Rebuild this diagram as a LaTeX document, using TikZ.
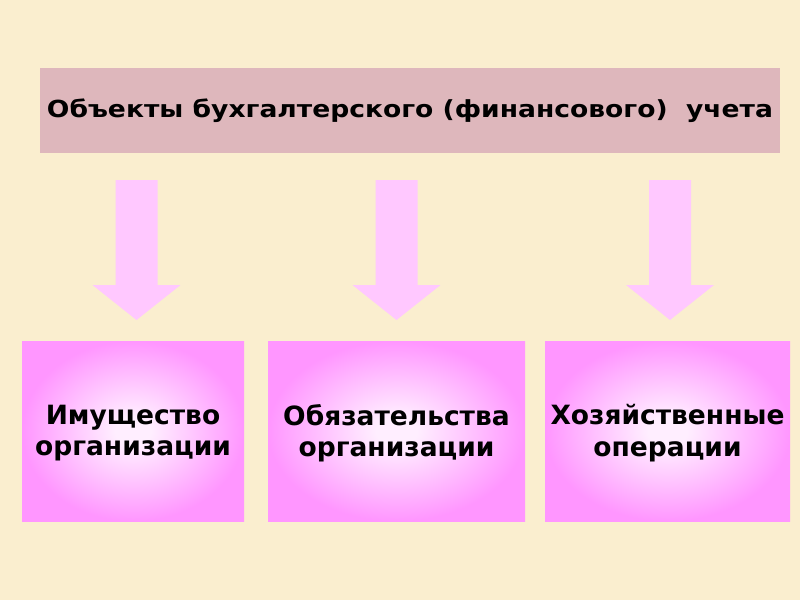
\documentclass[tikz,border=0pt]{standalone}
\usepackage{fontspec}
\setmainfont{DejaVu Sans}
\definecolor{bg}{RGB}{250,238,207}
\definecolor{bannerc}{RGB}{222,183,188}
\definecolor{arrowc}{RGB}{255,200,255}
\definecolor{boxin}{RGB}{255,238,255}
\definecolor{boxout}{RGB}{255,150,255}
\pgfdeclareradialshading{boxshade}{\pgfpoint{0bp}{0bp}}{color(0bp)=(boxin); color(4bp)=(boxin); color(25bp)=(boxout); color(50bp)=(boxout)}
\begin{document}
\begin{tikzpicture}[x=1pt,y=-1pt,
  banner/.style={fill=bannerc, minimum width=740pt, minimum height=85pt, inner sep=0pt, font=\bfseries\fontsize{23.5}{28}\selectfont},
  objbox/.style={shading=boxshade, minimum width=222pt, minimum height=180pt, inner sep=0pt, align=center, font=\bfseries\fontsize{26.5}{31.5}\selectfont},
  blockarrow/.style={fill=arrowc}]
\useasboundingbox (0,0) rectangle (800,600);
\fill[bg] (0,0) rectangle (800,600);
\node[banner] (top) at (410,110.5) {\scalebox{1.13}[1]{Объекты бухгалтерского (финансового)\ \ учета}};
\node[objbox] (b1) at (133,431) {};
\node[objbox, minimum width=257pt] (b2) at (396.5,431) {};
\node[objbox, minimum width=245pt] (b3) at (667.5,431) {};
\node[align=center, font=\bfseries\fontsize{26.5}{31.5}\selectfont] (t1) at (133,433) {Имущество\\организации};
\node[align=center, font=\bfseries\fontsize{26.5}{31.5}\selectfont] (t2) at (396.5,433) {Обязательства\\организации};
\node[align=center, font=\bfseries\fontsize{26.5}{31.5}\selectfont] (t3) at (667.5,433) {Хозяйственные\\операции};
\foreach \cx/\n in {136.5/a1, 396.5/a2, 670/a3}{
  \fill[blockarrow] (\cx-21,180) -- (\cx+21,180) -- (\cx+21,285) -- (\cx+44,285)
    -- (\cx,320) -- (\cx-44,285) -- (\cx-21,285) -- cycle;
}
\end{tikzpicture}
\end{document}
